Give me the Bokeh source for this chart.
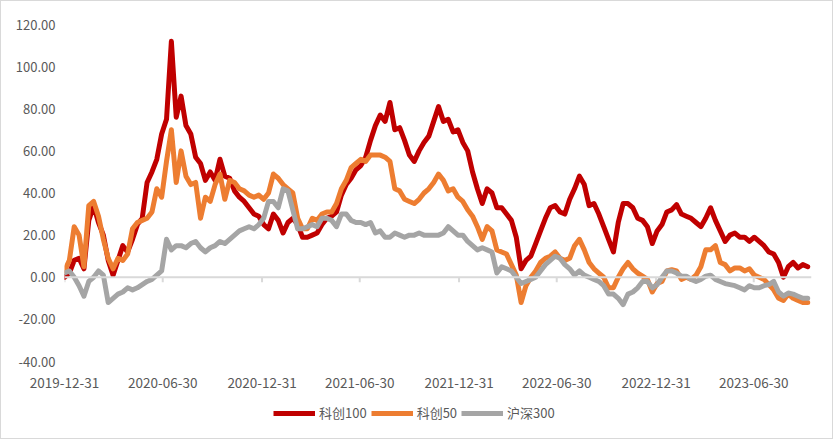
import datetime as dt
import pandas as pd
from bokeh.plotting import figure
from bokeh.layouts import column
from bokeh.models import (Range1d, FixedTicker, DatetimeTickFormatter, NumeralTickFormatter,
                          Span, Legend, LegendItem)
from bokeh.embed import file_html
from bokeh.resources import INLINE

# ---- data (cumulative return, %) sampled every 9 calendar days from 2019-12-31 ----
start_date = "2019-12-31"
step_days = 9

kc100 = [0, 2, 8, 9, 4, 27, 34, 26, 20, 8,
         1, 8, 15, 12, 18, 25, 28, 45, 50, 56,
         68, 75, 112, 76, 86, 72, 68, 57, 54, 46,
         50, 46, 56, 48, 47, 41, 38, 36, 33, 30,
         29, 25, 23, 30, 27, 21, 26, 28, 25, 19,
         19, 20, 21, 25, 28, 29, 31, 39, 44, 47,
         51, 53, 57, 65, 72, 77, 74, 83, 70, 71,
         65, 58, 55, 60, 64, 67, 74, 81, 74, 75,
         69, 70, 64, 60, 50, 42, 35, 42, 40, 33,
         33, 30, 27, 19, 4, 8, 10, 16, 22, 28,
         33, 34, 31, 30, 37, 42, 48, 44, 34, 35,
         30, 24, 18, 12, 26, 35, 35, 33, 28, 27,
         24, 16, 22, 25, 31, 32, 34.5, 30, 29, 28,
         26, 24, 28, 33, 27, 22, 17, 20, 21, 19,
         19, 17, 19, 17, 15, 12, 11, 7, 0, 5,
         7, 4.4, 6, 5]

kc50 = [3, 8, 24, 20, 5, 34, 36, 29, 18, 9,
        4, 9, 8, 11, 23, 26, 27, 28, 31, 42,
        38, 55, 70, 45, 60, 48, 44, 45, 28, 38,
        36, 44, 49, 37, 46, 45, 42, 41, 39, 38,
        39, 37, 40, 49, 47, 44, 42, 40, 28, 23,
        23, 28, 27, 30, 31, 31, 35, 42, 46, 52,
        54, 56, 55, 58, 58, 58, 57, 55, 42, 41,
        37, 36, 35, 37, 40, 42, 45, 49, 46, 41,
        42, 38, 36, 32, 29, 24, 18, 24, 22, 13,
        12, 11, 6, 1, -12, -4, 0, 3, 7, 9,
        10, 12, 9, 8, 9, 15, 18, 13, 7, 4,
        2, 0, -5, -5, 0, 4, 7, 4, 2, 0.5,
        -1, -7, -3, -2, 3, 3.6, 3, -1, 0, -1,
        1, 5, 13, 13, 15, 7, 6, 3, 4.4, 4.4,
        3, 4, 1, 0, -1, -3.5, -6, -10, -11, -8,
        -10, -11, -12, -12]

hs300 = [2, 3, 0, -4, -9, -2, 0, 3, 1, -12,
         -10, -8, -7, -5, -6, -5, -3.5, -2, -1, 1,
         3, 18, 13, 15, 15, 14, 16, 17, 14, 12,
         14, 15, 17, 16, 18, 20, 22, 23, 24, 23,
         25, 28, 36, 36, 33, 42, 41, 32, 23, 23,
         24, 25, 24, 28, 28, 27, 24, 30, 30, 27,
         26, 26, 25, 26, 21, 22, 19, 19, 21, 20,
         19, 20, 20, 21, 20, 20, 20, 20, 21, 24,
         22, 20, 20, 17, 15, 13, 14, 13, 12, 2,
         5, 4, 3, 0, -3, -2, -1, 0, 3, 6,
         8, 10, 9, 6, 4, 1, 3, 1, 0, -1,
         -2, -4, -8, -8, -10, -13, -8, -7, -5, -2,
         -2, -5, -3.5, 0, 3, 3, 2, 0.5, 0.5, -1,
         -2, -1, 0.5, 1, -1, -2, -3, -3.5, -4, -5,
         -6, -4, -5, -5, -4, -3.5, -2, -7, -9, -7.5,
         -8, -9, -10, -10]

series_names = ["科创100", "科创50", "沪深300"]
series_colors = ["#C00000", "#ED7D31", "#A5A5A5"]
x_tick_labels = ["2019-12-31", "2020-06-30", "2020-12-31", "2021-06-30",
                 "2021-12-31", "2022-06-30", "2022-12-31", "2023-06-30"]
y_ticks = [-40, -20, 0, 20, 40, 60, 80, 100, 120]

dates = pd.date_range(start_date, periods=len(kc100), freq=f"{step_days}D")

FONT = "Noto Sans CJK SC"
TXT = "#595959"

p = figure(width=833, height=395, x_axis_type="datetime",
           output_backend="svg", toolbar_location=None,
           x_range=Range1d(dt.datetime(2019, 12, 31), dt.datetime(2023, 10, 15)),
           y_range=Range1d(-40, 120),
           min_border_left=63, min_border_right=23,
           min_border_top=23, min_border_bottom=35)
p.xgrid.visible = False
p.ygrid.visible = False
p.outline_line_color = None
p.background_fill_color = "white"
p.border_fill_color = "white"
p.styles = {"border-top": "1px solid #D9D9D9", "border-left": "1px solid #D9D9D9",
            "border-right": "1px solid #D9D9D9", "box-sizing": "border-box"}

# y axis
p.yaxis.ticker = FixedTicker(ticks=y_ticks)
p.yaxis.formatter = NumeralTickFormatter(format="0.00")
p.yaxis.axis_line_color = None
p.yaxis.major_tick_line_color = None
p.yaxis.minor_tick_line_color = None
p.yaxis.major_label_standoff = 3
p.yaxis.major_label_text_font = FONT
p.yaxis.major_label_text_font_size = "13px"
p.yaxis.major_label_text_color = TXT

# x axis
tick_ms = [pd.Timestamp(d).value // 10**6 for d in x_tick_labels]
p.xaxis.ticker = FixedTicker(ticks=tick_ms)
fmt = "%Y-%m-%d"
p.xaxis.formatter = DatetimeTickFormatter(days=fmt, months=fmt, years=fmt, hours=fmt,
                                          minutes=fmt, hourmin=fmt, seconds=fmt,
                                          minsec=fmt, milliseconds=fmt, microseconds=fmt)
p.xaxis.axis_line_color = None
p.xaxis.major_tick_line_color = None
p.xaxis.minor_tick_line_color = None
p.xaxis.major_label_standoff = 10
p.xaxis.major_label_text_font = FONT
p.xaxis.major_label_text_font_size = "13.5px"
p.xaxis.major_label_text_color = TXT

# zero line with small tick marks
p.add_layout(Span(location=0, dimension="width", line_color="#D9D9D9", line_width=2))
tick_dt = [pd.Timestamp(d) for d in x_tick_labels]
p.segment(x0=tick_dt, y0=[0] * len(tick_dt), x1=tick_dt, y1=[-2.4] * len(tick_dt),
          line_color="#D9D9D9", line_width=2)

for vals, name, col in zip([kc100, kc50, hs300], series_names, series_colors):
    p.line(dates, vals, line_color=col, line_width=5, line_join="round", line_cap="round")

# legend strip (separate figure below the chart; its frame is aligned with the chart's)
lg = figure(width=833, height=44, output_backend="svg", toolbar_location=None,
            x_range=Range1d(0, 1), y_range=Range1d(0, 1),
            min_border_left=0, min_border_right=0, min_border_top=0, min_border_bottom=0)
lg.axis.visible = False
lg.grid.visible = False
lg.outline_line_color = None
lg.background_fill_color = "white"
lg.border_fill_color = "white"
lg.styles = {"border-bottom": "1px solid #D9D9D9", "border-left": "1px solid #D9D9D9",
             "border-right": "1px solid #D9D9D9", "box-sizing": "border-box"}
nan = float("nan")
leg_renderers = [lg.line([nan], [nan], line_color=c, line_width=5) for c in series_colors]

legend = Legend(items=[LegendItem(label=n, renderers=[r]) for n, r in zip(series_names, leg_renderers)],
                orientation="horizontal", location=(209, 17),
                border_line_color=None, background_fill_alpha=0,
                label_text_font=FONT, label_text_font_size="13px", label_text_color=TXT,
                glyph_width=42, glyph_height=14, label_standoff=4, spacing=4,
                padding=0, margin=0)
lg.add_layout(legend)

layout = column(p, lg, spacing=0)
open("out.html", "w").write(file_html(layout, INLINE))
